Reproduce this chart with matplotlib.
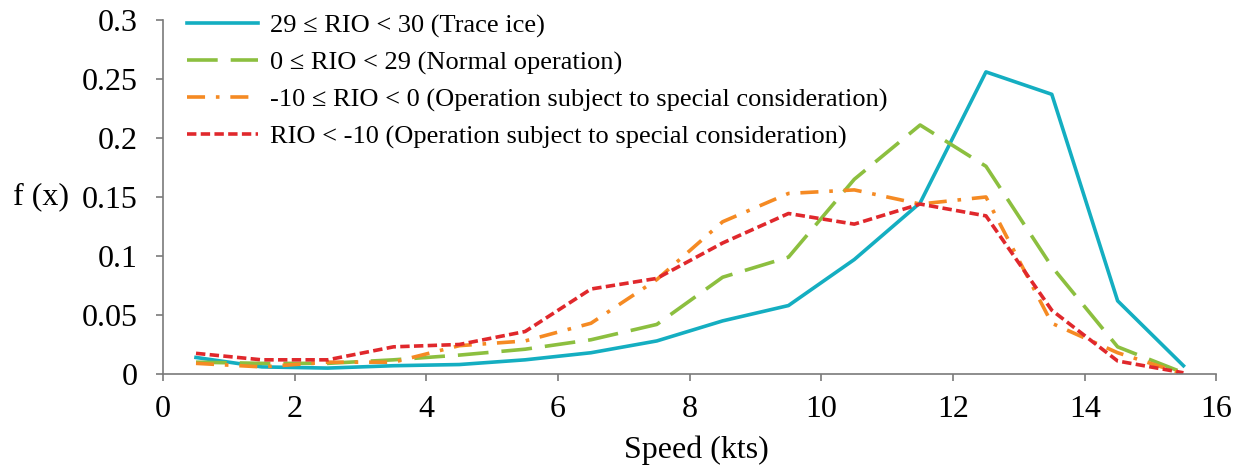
import matplotlib.pyplot as plt

speed = [0.5, 1.5, 2.5, 3.5, 4.5, 5.5, 6.5, 7.5, 8.5, 9.5, 10.5, 11.5, 12.5, 13.5, 14.5, 15.5]

trace_ice = [0.014, 0.006, 0.005, 0.007, 0.008, 0.012, 0.018, 0.028, 0.045, 0.058, 0.097, 0.145, 0.256, 0.237, 0.062, 0.007]
normal_op = [0.010, 0.009, 0.009, 0.012, 0.016, 0.021, 0.029, 0.042, 0.082, 0.099, 0.165, 0.211, 0.176, 0.091, 0.023, 0.001]
special_a = [0.009, 0.006, 0.010, 0.010, 0.024, 0.028, 0.043, 0.080, 0.129, 0.153, 0.156, 0.144, 0.150, 0.043, 0.018, 0.000]
special_b = [0.0175, 0.012, 0.012, 0.023, 0.025, 0.036, 0.072, 0.081, 0.111, 0.136, 0.127, 0.144, 0.134, 0.054, 0.011, 0.001]

labels = [
    "29 \u2264 RIO < 30 (Trace ice)",
    "0 \u2264 RIO < 29 (Normal operation)",
    "-10 \u2264 RIO < 0 (Operation subject to special consideration)",
    "RIO < -10 (Operation subject to special consideration)",
]

plt.rcParams['font.family'] = ['Liberation Serif', 'DejaVu Serif']

fig = plt.figure(figsize=(12.45, 4.69), dpi=100)
ax = fig.add_axes([0.131, 0.2026, 0.846, 0.7548])

lw = 2.6
ax.plot(speed, trace_ice, color='#14AEC1', lw=lw, label=labels[0])
ax.plot(speed, normal_op, color='#8CBF3F', lw=lw, dashes=(8.5, 3.6), label=labels[1])
ax.plot(speed, special_a, color='#F58A23', lw=lw, dashes=(5, 3, 1, 3), label=labels[2])
ax.plot(speed, special_b, color='#E0282C', lw=lw, dashes=(2.6, 1.2), label=labels[3])

ax.set_xlim(0, 16)
ax.set_ylim(0, 0.3)
ax.set_xticks(range(0, 17, 2))
ax.set_yticks([0, 0.05, 0.1, 0.15, 0.2, 0.25, 0.3])
ax.set_yticklabels(['0', '0.05', '0.1', '0.15', '0.2', '0.25', '0.3'])

for s in ['top', 'right']:
    ax.spines[s].set_visible(False)
for s in ['left', 'bottom']:
    ax.spines[s].set_color('#7a7a7a')
    ax.spines[s].set_linewidth(1.2)
ax.tick_params(direction='out', length=5, width=1.2, color='#7a7a7a', labelsize=23)
ax.tick_params(axis='y', pad=13)
ax.tick_params(axis='x', pad=10)

ax.set_xlabel('Speed (kts)', fontsize=23)
ax.xaxis.set_label_coords(0.506, -0.175)
ax.set_ylabel('f (x)', fontsize=23, rotation=0, va='center', ha='right')
ax.yaxis.set_label_coords(-0.089, 0.5)

ax.legend(loc='upper left', bbox_to_anchor=(0.005, 1.07), frameon=False, fontsize=19,
          handlelength=2.7, handletextpad=0.45, labelspacing=0.5, borderaxespad=0.3)

plt.savefig('out.png', dpi=100)
